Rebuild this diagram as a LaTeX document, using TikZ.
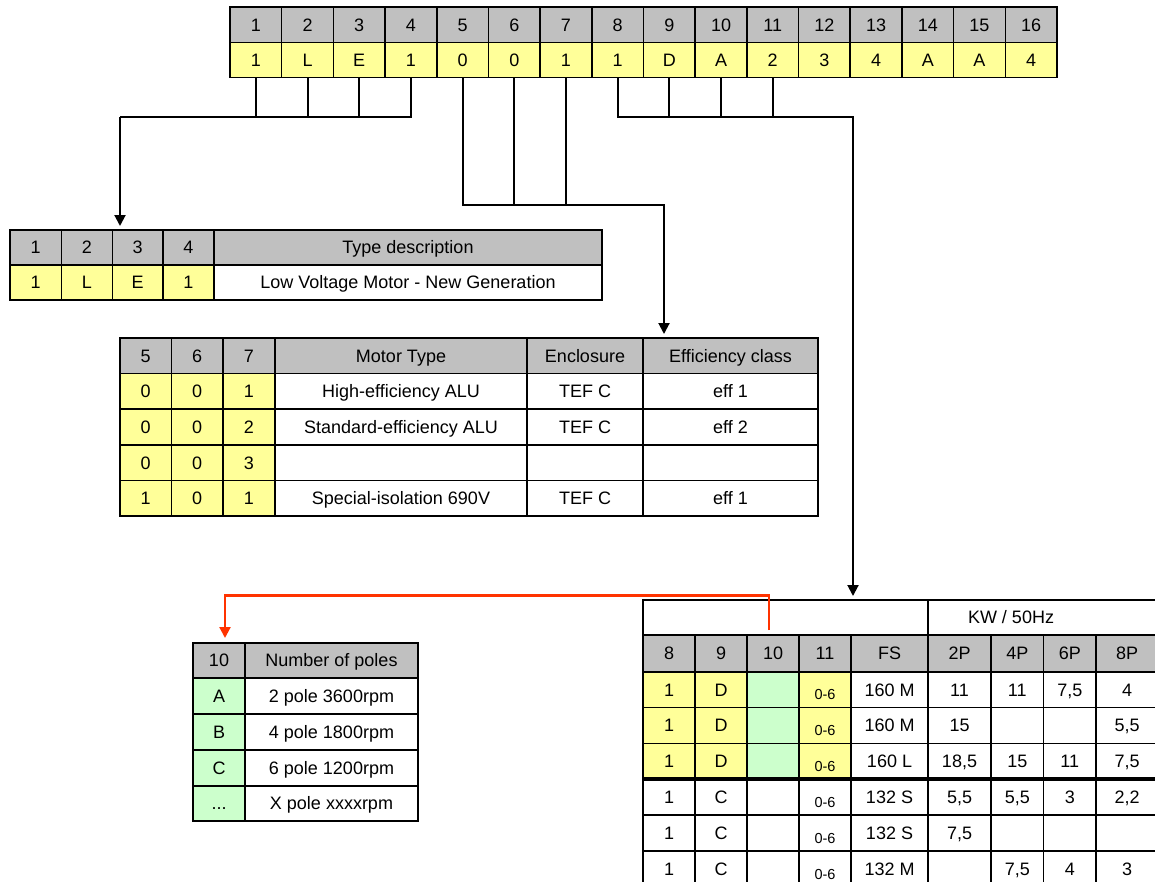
\documentclass[tikz,border=0pt]{standalone}
\usepackage{fontspec}
\setmainfont{Liberation Sans}
\usetikzlibrary{arrows.meta}
\definecolor{hgray}{HTML}{C0C0C0}
\definecolor{cyel}{HTML}{FFFF99}
\definecolor{cgrn}{HTML}{CCFFCC}
\definecolor{cred}{RGB}{255,51,0}
\newcommand{\mkcell}[7]{%
  \node[#6, minimum width={(#4-#2)*1pt}, minimum height={(#5-#3)*1pt}] (#1) at ({(#2+#4)/2},{(#3+#5)/2}) {#7};}
\newcommand{\browA}[6]{%
  \mkcell{b#1c8}{643}{#2}{695}{#3}{#4}{1}
  \mkcell{b#1c9}{695}{#2}{747}{#3}{#4}{#6}
  \mkcell{b#1c10}{747}{#2}{799}{#3}{#5}{}
  \mkcell{b#1c11}{799}{#2}{851}{#3}{#4,small}{0-6}}
\newcommand{\browB}[8]{%
  \mkcell{b#1fs}{851}{#2}{928}{#3}{wht}{#4}
  \mkcell{b#1p2}{928}{#2}{991}{#3}{wht}{#5}
  \mkcell{b#1p4}{991}{#2}{1043.5}{#3}{wht}{#6}
  \mkcell{b#1p6}{1043.5}{#2}{1096}{#3}{wht}{#7}
  \mkcell{b#1p8}{1096}{#2}{1158}{#3}{wht}{#8}}
\tikzset{
  cell/.style={draw=black, line width=1.6pt, inner sep=0pt, outer sep=0pt,
    font=\fontsize{18}{20}\selectfont, text=black, text height=12.9pt, text depth=0pt},
  hdr/.style={cell, fill=hgray},
  yel/.style={cell, fill=cyel},
  grn/.style={cell, fill=cgrn},
  wht/.style={cell, fill=white},
  small/.style={font=\fontsize{14.5}{16}\selectfont, text height=20.4pt, text depth=0pt},
  conn/.style={draw=black, line width=2pt},
  arr/.style={conn, -{Triangle[length=11pt,width=11pt]}, shorten >=4pt},
  redarr/.style={draw=cred, line width=2.2pt, -{Triangle[length=11pt,width=11pt]}, shorten >=5pt},
  plain/.style={font=\fontsize{18}{20}\selectfont, inner sep=0pt}
}
\begin{document}
\begin{tikzpicture}[x=1pt,y=-1pt]
\useasboundingbox (0,0) rectangle (1155,881);
\clip (0,0) rectangle (1155,881);
\fill[white] (0,0) rectangle (1155,881);

% top code table
\foreach \v [count=\i] in {1,L,E,1,0,0,1,1,D,A,2,3,4,A,A,4} {
  \pgfmathsetmacro\xa{230+51.6875*(\i-1)}
  \pgfmathsetmacro\xb{\xa+51.6875}
  \mkcell{th\i}{\xa}{7}{\xb}{42.5}{hdr}{\i}
  \mkcell{tv\i}{\xa}{42.5}{\xb}{77.5}{yel}{\v}
}

% type description table
\mkcell{dh1}{10}{230}{61.5}{265}{hdr}{1}
\mkcell{dh2}{61.5}{230}{112.5}{265}{hdr}{2}
\mkcell{dh3}{112.5}{230}{163}{265}{hdr}{3}
\mkcell{dh4}{163}{230}{214}{265}{hdr}{4}
\mkcell{dhd}{214}{230}{602}{265}{hdr}{Type description}
\mkcell{dv1}{10}{265}{61.5}{300}{yel}{1}
\mkcell{dv2}{61.5}{265}{112.5}{300}{yel}{L}
\mkcell{dv3}{112.5}{265}{163}{300}{yel}{E}
\mkcell{dv4}{163}{265}{214}{300}{yel}{1}
\mkcell{dvd}{214}{265}{602}{300}{wht}{Low Voltage Motor - New Generation}

% motor type table
\mkcell{mh5}{120}{338}{171.5}{373.5}{hdr}{5}
\mkcell{mh6}{171.5}{338}{223}{373.5}{hdr}{6}
\mkcell{mh7}{223}{338}{275}{373.5}{hdr}{7}
\mkcell{mhm}{275}{338}{527}{373.5}{hdr}{Motor Type}
\mkcell{mhe}{527}{338}{643}{373.5}{hdr}{Enclosure}
\mkcell{mhf}{643}{338}{818}{373.5}{hdr}{Efficiency class}
\mkcell{ma5}{120}{373.5}{171.5}{409}{yel}{0}
\mkcell{ma6}{171.5}{373.5}{223}{409}{yel}{0}
\mkcell{ma7}{223}{373.5}{275}{409}{yel}{1}
\mkcell{mam}{275}{373.5}{527}{409}{wht}{High-efficiency ALU}
\mkcell{mae}{527}{373.5}{643}{409}{wht}{TEF C}
\mkcell{maf}{643}{373.5}{818}{409}{wht}{eff 1}
\mkcell{mb5}{120}{409}{171.5}{445}{yel}{0}
\mkcell{mb6}{171.5}{409}{223}{445}{yel}{0}
\mkcell{mb7}{223}{409}{275}{445}{yel}{2}
\mkcell{mbm}{275}{409}{527}{445}{wht}{Standard-efficiency ALU}
\mkcell{mbe}{527}{409}{643}{445}{wht}{TEF C}
\mkcell{mbf}{643}{409}{818}{445}{wht}{eff 2}
\mkcell{mc5}{120}{445}{171.5}{480.5}{yel}{0}
\mkcell{mc6}{171.5}{445}{223}{480.5}{yel}{0}
\mkcell{mc7}{223}{445}{275}{480.5}{yel}{3}
\mkcell{mcm}{275}{445}{527}{480.5}{wht}{}
\mkcell{mce}{527}{445}{643}{480.5}{wht}{}
\mkcell{mcf}{643}{445}{818}{480.5}{wht}{}
\mkcell{md5}{120}{480.5}{171.5}{516}{yel}{1}
\mkcell{md6}{171.5}{480.5}{223}{516}{yel}{0}
\mkcell{md7}{223}{480.5}{275}{516}{yel}{1}
\mkcell{mdm}{275}{480.5}{527}{516}{wht}{Special-isolation 690V}
\mkcell{mde}{527}{480.5}{643}{516}{wht}{TEF C}
\mkcell{mdf}{643}{480.5}{818}{516}{wht}{eff 1}

% number of poles table
\mkcell{ph10}{193}{643}{245}{678}{hdr}{10}
\mkcell{phd}{245}{643}{418}{678}{hdr}{Number of poles}
\mkcell{pa}{193}{678}{245}{714}{grn}{A}
\mkcell{pad}{245}{678}{418}{714}{wht}{2 pole 3600rpm}
\mkcell{pb}{193}{714}{245}{750}{grn}{B}
\mkcell{pbd}{245}{714}{418}{750}{wht}{4 pole 1800rpm}
\mkcell{pc}{193}{750}{245}{786}{grn}{C}
\mkcell{pcd}{245}{750}{418}{786}{wht}{6 pole 1200rpm}
\mkcell{px}{193}{786}{245}{821}{grn}{...}
\mkcell{pxd}{245}{786}{418}{821}{wht}{X pole xxxxrpm}

% bottom right table
\mkcell{btop}{643}{600}{928}{635}{wht}{}
\mkcell{bkw}{928}{600}{1158}{635}{wht}{}
\node[plain] (kwtext) at (1011,617.5) {KW / 50Hz};
\mkcell{bh8}{643}{635}{695}{672}{hdr}{8}
\mkcell{bh9}{695}{635}{747}{672}{hdr}{9}
\mkcell{bh10}{747}{635}{799}{672}{hdr}{10}
\mkcell{bh11}{799}{635}{851}{672}{hdr}{11}
\mkcell{bhfs}{851}{635}{928}{672}{hdr}{FS}
\mkcell{bh2}{928}{635}{991}{672}{hdr}{2P}
\mkcell{bh4}{991}{635}{1043.5}{672}{hdr}{4P}
\mkcell{bh6}{1043.5}{635}{1096}{672}{hdr}{6P}
\mkcell{bh8p}{1096}{635}{1158}{672}{hdr}{8P}
\browA{1}{672}{707.5}{yel}{grn}{D}
\browB{1}{672}{707.5}{160 M}{11}{11}{7,5}{4}
\browA{2}{707.5}{743.5}{yel}{grn}{D}
\browB{2}{707.5}{743.5}{160 M}{15}{}{}{5,5}
\browA{3}{743.5}{779}{yel}{grn}{D}
\browB{3}{743.5}{779}{160 L}{18,5}{15}{11}{7,5}
\browA{4}{779}{815}{wht}{wht}{C}
\browB{4}{779}{815}{132 S}{5,5}{5,5}{3}{2,2}
\browA{5}{815}{851}{wht}{wht}{C}
\browB{5}{815}{851}{132 S}{7,5}{}{}{}
\browA{6}{851}{887}{wht}{wht}{C}
\browB{6}{851}{887}{132 M}{}{7,5}{4}{3}
\draw[line width=4pt] (b3c8.south west) -- (b3p8.south east);

% connectors group 1-4
\coordinate (ja) at (120,116.5);
\foreach \i in {1,2,3} { \draw[conn] (tv\i.south) -- (tv\i.south |- ja); }
\draw[conn] (ja) -| (tv4.south);
\draw[arr] (ja) -- (ja |- dh3.north);

% connectors group 5-7
\coordinate (jb) at (664,205);
\foreach \i in {6,7} { \draw[conn] (tv\i.south) -- (tv\i.south |- jb); }
\draw[arr] (tv5.south) |- (jb) -- (jb |- mhf.north);

% connectors group 8-11
\coordinate (jc) at (853,116.5);
\foreach \i in {9,10,11} { \draw[conn] (tv\i.south) -- (tv\i.south |- jc); }
\draw[arr] (tv8.south) |- (jc) -- (jc |- btop.north);

% red connector
\coordinate (jr) at (225,595.5);
\draw[redarr] ([xshift=-4pt,yshift=5pt]bh10.north) |- (jr) -- (jr |- ph10.north);
\end{tikzpicture}
\end{document}
